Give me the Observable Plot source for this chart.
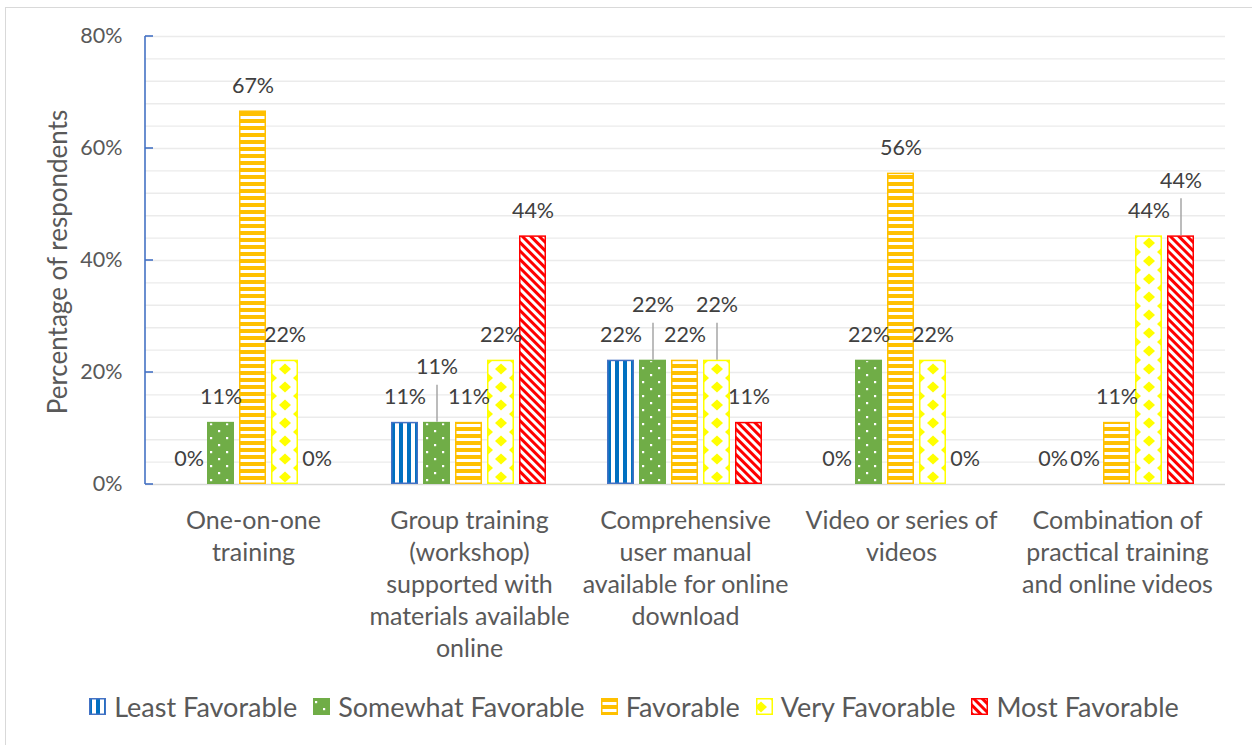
<!DOCTYPE html>
<html>
<head>
<meta charset="utf-8">
<script src="https://cdn.jsdelivr.net/npm/d3@7"></script>
<script src="https://cdn.jsdelivr.net/npm/@observablehq/plot@0.6"></script>
<style>
  body { margin: 0; background: #fff; font-family: Lato, "Open Sans", sans-serif; }
  #wrap { position: relative; width: 1252px; height: 745px; overflow: hidden; background: #fff; }
  #frame { position: absolute; left: 5px; top: 7px; width: 1400px; height: 900px;
           border-left: 1.5px solid #D9D9D9; border-top: 1.5px solid #D9D9D9; pointer-events: none; }
  #chart { position: absolute; left: 0; top: 0; }
  #legend { position: absolute; left: 0; top: 690px; width: 1252px; display: flex; justify-content: center;
            align-items: center; font-size: 27px; color: #595959; padding-left: 16px; box-sizing: border-box; }
  .item { display: flex; align-items: center; margin: 0 8px; white-space: nowrap; }
  .item svg { margin-right: 8px; }
</style>
</head>
<body>
<svg width="0" height="0" style="position:absolute">
  <defs>
    <pattern id="pat0" patternUnits="userSpaceOnUse" width="8" height="8">
      <rect width="8" height="8" fill="#fff"/>
      <rect x="0" y="0" width="4" height="8" fill="#0070C0"/>
    </pattern>
    <pattern id="pat1" patternUnits="userSpaceOnUse" width="16" height="14">
      <rect width="16" height="14" fill="#70AD47"/>
      <rect x="3" y="3" width="2.2" height="2.2" fill="#fff"/>
      <rect x="11" y="10" width="2.2" height="2.2" fill="#fff"/>
    </pattern>
    <pattern id="pat2" patternUnits="userSpaceOnUse" width="8" height="7">
      <rect width="8" height="7" fill="#fff"/>
      <rect x="0" y="0" width="8" height="4" fill="#FFC000"/>
    </pattern>
    <pattern id="pat3" patternUnits="userSpaceOnUse" width="28" height="18">
      <rect width="28" height="18" fill="#fff"/>
      <g fill="#FFFF00">
        <polygon points="14,3.5 20,9 14,14.5 8,9"/>
        <polygon points="0,-5.5 6,0 0,5.5 -6,0"/>
        <polygon points="28,-5.5 34,0 28,5.5 22,0"/>
        <polygon points="0,12.5 6,18 0,23.5 -6,18"/>
        <polygon points="28,12.5 34,18 28,23.5 22,18"/>
      </g>
    </pattern>
    <pattern id="pat4" patternUnits="userSpaceOnUse" width="6" height="6" patternTransform="rotate(-45)">
      <rect width="6" height="6" fill="#fff"/>
      <rect x="0" y="0" width="3" height="6" fill="#FF0000"/>
    </pattern>
  </defs>
</svg>
<div id="wrap">
  <div id="chart"></div>
  <div id="frame"></div>
  <div id="legend"></div>
</div>
<script>
// ---------- data ----------
const categories = [
  "One-on-one training",
  "Group training (workshop) supported with materials available online",
  "Comprehensive user manual available for online download",
  "Video or series of videos",
  "Combination of practical training and online videos"
];
const categoryLines = [
  "One-on-one\ntraining",
  "Group training\n(workshop)\nsupported with\nmaterials available\nonline",
  "Comprehensive\nuser manual\navailable for online\ndownload",
  "Video or series of\nvideos",
  "Combination of\npractical training\nand online videos"
];
const series = ["Least Favorable", "Somewhat Favorable", "Favorable", "Very Favorable", "Most Favorable"];
const leastFavorable    = [0,    11.1, 22.2, 0,    0];
const somewhatFavorable = [11.1, 11.1, 22.2, 22.2, 0];
const favorable         = [66.7, 11.1, 22.2, 55.6, 11.1];
const veryFavorable     = [22.2, 22.2, 22.2, 22.2, 44.4];
const mostFavorable     = [0,    44.4, 11.1, 0,    44.4];
const yTicks = [0, 20, 40, 60, 80];
// labels moved up with a leader line: [category index, series index]
const raisedLabels = [[1, 1], [2, 1], [2, 3], [4, 4]];

const seriesValues = [leastFavorable, somewhatFavorable, favorable, veryFavorable, mostFavorable];
const strokeColors = ["#4472C4", "#70AD47", "#FFC000", "#FFFF00", "#FF0000"];

const data = [];
categories.forEach((c, ci) => series.forEach((s, si) => {
  data.push({category: c, series: s, value: seriesValues[si][ci],
             raised: raisedLabels.some(([a, b]) => a === ci && b === si)});
}));

// ---------- layout ----------
const W = 1252, H = 680, mL = 145, mR = 27, mT = 36, mB = 196;
const pxPerUnit = (H - mT - mB) / 80;
const fmt = d => Math.round(d.value) + "%";

const marks = [
  Plot.ruleY(d3.range(4, 81, 4), {stroke: "#EBEBEB", strokeWidth: 1.4}),
  Plot.ruleY([0], {stroke: "#D9D9D9", strokeWidth: 1.6})
];
series.forEach((s, i) => {
  marks.push(Plot.barY(data.filter(d => d.series === s), {
    fx: "category", x: "series", y: "value",
    fill: `url(#pat${i})`, stroke: strokeColors[i], strokeWidth: 1.5, inset: 0.75
  }));
});
marks.push(
  Plot.ruleX(data.filter(d => d.raised), {
    fx: "category", x: "series", y1: "value", y2: d => d.value + 37 / pxPerUnit,
    stroke: "#A6A6A6", strokeWidth: 1.5
  }),
  Plot.text(data.filter(d => !d.raised), {
    fx: "category", x: "series", y: "value", text: fmt, dy: -25,
    fontSize: 21.5, fill: "#404040"
  }),
  Plot.text(data.filter(d => d.raised), {
    fx: "category", x: "series", y: "value", text: fmt, dy: -55,
    fontSize: 21.5, fill: "#404040"
  }),
  Plot.text(categories, {
    fx: d => d, text: (d, i) => categoryLines[i], frameAnchor: "bottom",
    lineAnchor: "top", dy: 22, fontSize: 25, lineHeight: 1.28, fill: "#595959"
  }),
  Plot.axisY(yTicks, {
    anchor: "left", tickSize: 0, tickPadding: 23, tickFormat: d => d + "%",
    fontSize: 21.5, color: "#595959", label: null
  })
);

const plot = Plot.plot({
  width: W, height: H, marginLeft: mL, marginRight: mR, marginTop: mT, marginBottom: mB,
  style: {fontFamily: "Lato, 'Open Sans', sans-serif", background: "transparent", color: "#595959"},
  fx: {domain: categories, padding: 0, axis: null, label: null},
  x: {domain: series, paddingInner: 0.15, paddingOuter: 0.85, axis: null},
  y: {domain: [0, 80], axis: null},
  marks
});
document.getElementById("chart").appendChild(plot);

// align patterns to bars
const xs = plot.scale("x");
[0, 1, 2, 3].forEach(i => {
  document.getElementById("pat" + i).setAttribute("x", xs.apply(series[i]));
});

// y axis line with inner ticks, and title
const ys = plot.scale("y");
const svg = d3.select(plot);
const g = svg.append("g").attr("stroke", "#4472C4").attr("stroke-width", 1.6);
g.append("line").attr("x1", mL).attr("x2", mL).attr("y1", ys.apply(80)).attr("y2", ys.apply(0));
yTicks.forEach(t => g.append("line").attr("x1", mL).attr("x2", mL + 8).attr("y1", ys.apply(t)).attr("y2", ys.apply(t)));
svg.append("text")
  .attr("transform", `translate(60,${(ys.apply(0) + ys.apply(80)) / 2 + 2}) rotate(-90)`)
  .attr("text-anchor", "middle").attr("dominant-baseline", "middle")
  .attr("font-size", 26).attr("fill", "#595959")
  .text("Percentage of respondents");

// legend
const legend = document.getElementById("legend");
series.forEach((s, i) => {
  const item = document.createElement("div");
  item.className = "item";
  item.innerHTML = `<svg width="17" height="17"><rect x="0.75" y="0.75" width="15.5" height="15.5" fill="url(#pat${i})" stroke="${strokeColors[i]}" stroke-width="1.5"/></svg><span>${s}</span>`;
  legend.appendChild(item);
});
</script>
</body>
</html>
